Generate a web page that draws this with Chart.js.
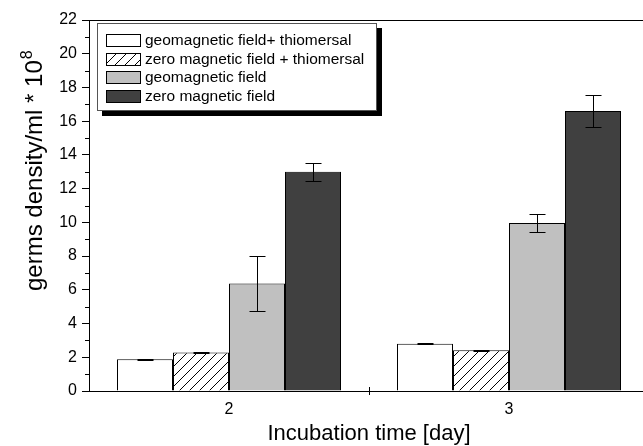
<!DOCTYPE html>
<html>
<head>
<meta charset="utf-8">
<script src="https://cdn.jsdelivr.net/npm/chart.js@4.4.1/dist/chart.umd.min.js"></script>
<style>
  body { margin: 0; background: #fff; }
  #wrap { width: 643px; height: 446px; overflow: hidden; position: relative; }
  canvas { display: block; }
</style>
</head>
<body>
<div id="wrap"><canvas id="myChart" width="660" height="446"></canvas></div>
<script>
// dati
const categories = ["2", "3"];
const seriesNames = [
  "geomagnetic field+ thiomersal",
  "zero magnetic field + thiomersal",
  "geomagnetic field",
  "zero magnetic field",
];
const geoThio = [1.88, 2.8];
const geoThioErr = [0.04, 0.04];
const zeroThio = [2.29, 2.41];
const zeroThioErr = [0.03, 0.03];
const geo = [6.38, 9.96];
const geoErr = [1.61, 0.56];
const zero = [13.0, 16.6];
const zeroErr = [0.53, 0.95];
const yTicks = [0, 2, 4, 6, 8, 10, 12, 14, 16, 18, 20, 22];

const FONT = "'Liberation Sans', Arial, sans-serif";

// pattern a righe oblique per la serie tratteggiata
function makeHatch() {
  const c = document.createElement("canvas");
  c.width = 10;
  c.height = 10;
  const g = c.getContext("2d");
  g.fillStyle = "#fff";
  g.fillRect(0, 0, 10, 10);
  g.strokeStyle = "#000";
  g.lineWidth = 1;
  g.beginPath();
  g.moveTo(0, 10); g.lineTo(10, 0);
  g.moveTo(-2, 2); g.lineTo(2, -2);
  g.moveTo(8, 12); g.lineTo(12, 8);
  g.stroke();
  return g.createPattern(c, "repeat");
}

const ctx = document.getElementById("myChart").getContext("2d");
const hatch = makeHatch();
const fills = ["#ffffff", hatch, "#c0c0c0", "#404040"];
const values = [geoThio, zeroThio, geo, zero];
const errors = [geoThioErr, zeroThioErr, geoErr, zeroErr];

// barre di errore, tacche minori, cornice, titolo Y e legenda
const extras = {
  id: "extras",
  afterDatasetsDraw(chart) {
    const c = chart.ctx;
    const y = chart.scales.y;
    c.save();
    c.strokeStyle = "#000";
    c.lineWidth = 1;
    chart.data.datasets.forEach((ds, i) => {
      const meta = chart.getDatasetMeta(i);
      meta.data.forEach((bar, j) => {
        const v = ds.data[j];
        const e = errors[i][j];
        const x = Math.round(bar.x) + 0.5;
        const top = Math.round(y.getPixelForValue(v + e)) + 0.5;
        const bot = Math.round(y.getPixelForValue(v - e)) + 0.5;
        c.beginPath();
        c.moveTo(x, top); c.lineTo(x, bot);
        c.moveTo(x - 8, top); c.lineTo(x + 8, top);
        c.moveTo(x - 8, bot); c.lineTo(x + 8, bot);
        c.stroke();
      });
    });
    c.restore();
  },
  afterDraw(chart) {
    const c = chart.ctx;
    const a = chart.chartArea;
    const y = chart.scales.y;
    const x = chart.scales.x;
    c.save();
    c.strokeStyle = "#000";
    c.lineWidth = 1;
    c.beginPath();
    // linea superiore
    c.moveTo(a.left, a.top + 0.5);
    c.lineTo(a.right, a.top + 0.5);
    // tacche minori
    for (let k = 1; k < 22; k += 2) {
      const py = Math.round(y.getPixelForValue(k)) + 0.5;
      c.moveTo(a.left - 4, py);
      c.lineTo(a.left, py);
    }
    // tacca tra le categorie
    const mid = Math.round((x.getPixelForValue(0) + x.getPixelForValue(1)) / 2) + 0.5;
    c.moveTo(mid, a.bottom - 4);
    c.lineTo(mid, a.bottom + 4);
    c.stroke();

    // titolo asse Y con esponente
    c.fillStyle = "#000";
    c.translate(42, 291);
    c.rotate(-Math.PI / 2);
    c.font = "24px " + FONT;
    c.textBaseline = "alphabetic";
    c.textAlign = "left";
    const main = "germs density/ml * 10";
    c.fillText(main, 0, 0);
    const w = c.measureText(main).width;
    c.font = "16px " + FONT;
    c.fillText("8", w + 1, -10);
    c.restore();

    // legenda con ombra
    const lx = a.left + 8, ly = a.top + 3, lw = 280, lh = 88;
    c.save();
    c.fillStyle = "#000";
    c.fillRect(lx + 5, ly + 5, lw, lh);
    c.fillStyle = "#fff";
    c.fillRect(lx, ly, lw, lh);
    c.strokeStyle = "#555";
    c.lineWidth = 1;
    c.strokeRect(lx + 0.5, ly + 0.5, lw - 1, lh - 1);
    c.font = "15.5px " + FONT;
    c.textBaseline = "middle";
    seriesNames.forEach((name, i) => {
      const cy = ly + 17 + i * 18.5;
      c.fillStyle = fills[i];
      c.fillRect(lx + 9, Math.round(cy - 6), 34, 13);
      c.strokeStyle = "#000";
      c.strokeRect(lx + 9.5, Math.round(cy - 6) + 0.5, 34, 12);
      c.fillStyle = "#000";
      c.fillText(name, lx + 48, cy + 1);
    });
    c.restore();
  },
};

const myChart = new Chart(ctx, {
  type: "bar",
  data: {
    labels: categories,
    datasets: seriesNames.map((name, i) => ({
      label: name,
      data: values[i],
      backgroundColor: fills[i],
      borderColor: "#000",
      borderWidth: 1,
      categoryPercentage: 0.8,
      barPercentage: 1.0,
    })),
  },
  options: {
    responsive: false,
    animation: false,
    layout: { padding: { top: 20, right: 11, left: 0, bottom: 0 } },
    plugins: {
      legend: { display: false },
      tooltip: { enabled: false },
    },
    scales: {
      x: {
        grid: { display: false, drawTicks: false },
        border: { display: true, color: "#000", width: 1 },
        ticks: { color: "#000", font: { family: FONT, size: 16 }, padding: 9 },
        title: {
          display: true,
          text: "Incubation time [day]",
          color: "#000",
          font: { family: FONT, size: 22, lineHeight: 1.1 },
          padding: { top: 0, bottom: 0 },
        },
        afterFit(scale) { scale.height = 55; },
      },
      y: {
        min: 0,
        max: 22,
        afterBuildTicks(scale) { scale.ticks = yTicks.map((v) => ({ value: v })); },
        grid: { drawOnChartArea: false, tickLength: 7, color: "#000" },
        border: { display: true, color: "#000", width: 1 },
        ticks: { color: "#000", font: { family: FONT, size: 16 }, padding: 5 },
        afterFit(scale) { scale.width = 89; },
      },
    },
  },
  plugins: [extras],
});
</script>
</body>
</html>
